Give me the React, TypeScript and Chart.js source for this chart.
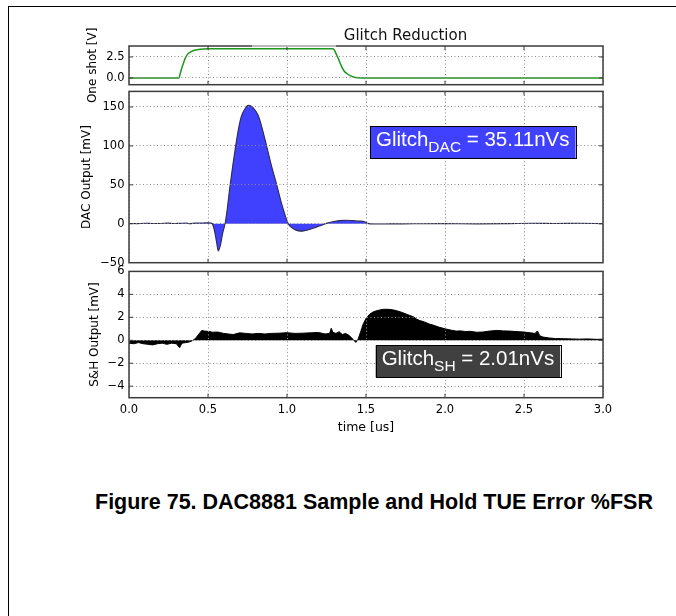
import React, { useEffect, useRef } from "react";
import { Chart, registerables } from "chart.js";
Chart.register(...registerables);

// ---------- data ----------
const X_TICKS = [0, 0.5, 1.0, 1.5, 2.0, 2.5, 3.0];
const ONESHOT_TICKS = [0, 2.5];
const DAC_TICKS = [-50, 0, 50, 100, 150];
const SH_TICKS = [-4, -2, 0, 2, 4, 6];

const TITLE = "Glitch Reduction";
const X_LABEL = "time [us]";
const ONESHOT_LABEL = "One shot [V]";
const DAC_LABEL = "DAC Output [mV]";
const SH_LABEL = "S&H Output [mV]";
const CAPTION = "Figure 75. DAC8881 Sample and Hold TUE Error %FSR";
const DAC_NOTE = ["Glitch", "DAC", " = 35.11nVs"];
const SH_NOTE = ["Glitch", "SH", " = 2.01nVs"];

const ONESHOT_T = [0, 0.2, 0.316, 0.325, 0.34, 0.355, 0.37, 0.39, 0.415, 0.45, 0.5, 0.7, 0.9, 1.1, 1.29, 1.3, 1.31, 1.325, 1.34, 1.357, 1.38, 1.4, 1.42, 1.45, 1.5, 2.0, 2.5, 3.0];
const ONESHOT_V = [0, 0, 0, 0.6, 1.5, 2.3, 2.8, 3.1, 3.3, 3.42, 3.46, 3.47, 3.46, 3.47, 3.46, 3.3, 2.9, 2.3, 1.6, 0.95, 0.5, 0.28, 0.12, 0.03, 0, 0, 0, 0];

const DAC_T = [0, 0.05, 0.1, 0.15, 0.2, 0.25, 0.28, 0.32, 0.36, 0.38, 0.42, 0.46, 0.5, 0.525, 0.54, 0.553, 0.565, 0.578, 0.593, 0.608, 0.62, 0.639, 0.657, 0.675, 0.693, 0.713, 0.735, 0.755, 0.77, 0.79, 0.818, 0.845, 0.871, 0.9, 0.935, 0.97, 1.008, 1.03, 1.06, 1.093, 1.13, 1.17, 1.21, 1.25, 1.29, 1.33, 1.37, 1.42, 1.46, 1.49, 1.51, 1.55, 1.65, 1.8, 2.0, 2.2, 2.4, 2.55, 2.7, 2.85, 3.0];
const DAC_V = [0.3, 0.2, 0.6, 0.3, 0.4, 0.8, 0.3, 0.5, 1.0, 0.2, 0.8, 1.0, 1.2, 0.5, -8, -22, -35, -28, -12, 0, 16, 48, 75, 100, 122, 139, 148, 152, 151.5, 148, 139, 121, 100, 76, 50, 23, 0, -5, -8.5, -9.5, -8, -5.5, -2.5, 0.5, 2.5, 4, 4.5, 4, 3.5, 2.5, 0.5, -0.3, -0.2, 0, 0.2, -0.1, 0.2, 0.6, 0.4, 0.6, 0.2];

const SH_T = [0, 0.03, 0.06, 0.09, 0.12, 0.15, 0.18, 0.21, 0.24, 0.27, 0.3, 0.32, 0.335, 0.36, 0.38, 0.4, 0.42, 0.44, 0.46, 0.48, 0.5, 0.53, 0.56, 0.6, 0.63, 0.66, 0.7, 0.74, 0.78, 0.82, 0.86, 0.9, 0.95, 1.0, 1.05, 1.1, 1.15, 1.2, 1.24, 1.27, 1.28, 1.29, 1.31, 1.33, 1.35, 1.37, 1.39, 1.41, 1.425, 1.437, 1.45, 1.465, 1.483, 1.5, 1.525, 1.55, 1.58, 1.61, 1.64, 1.67, 1.7, 1.73, 1.76, 1.78, 1.8, 1.82, 1.84, 1.87, 1.9, 1.93, 1.96, 2.0, 2.04, 2.07, 2.1, 2.13, 2.16, 2.2, 2.24, 2.28, 2.33, 2.37, 2.41, 2.45, 2.5, 2.54, 2.57, 2.585, 2.6, 2.62, 2.66, 2.7, 2.75, 2.8, 2.85, 2.9, 2.96, 3.0];
const SH_V = [-0.25, -0.3, -0.2, -0.3, -0.35, -0.4, -0.3, -0.25, -0.35, -0.25, -0.3, -0.65, -0.25, -0.2, -0.15, -0.05, 0.15, 0.5, 0.85, 0.8, 0.78, 0.7, 0.72, 0.6, 0.55, 0.5, 0.65, 0.6, 0.55, 0.6, 0.55, 0.6, 0.62, 0.66, 0.6, 0.62, 0.65, 0.68, 0.55, 0.6, 1.05, 0.7, 0.6, 0.75, 0.5, 0.6, 0.45, 0.2, -0.05, -0.18, 0.1, 0.7, 1.45, 1.9, 2.3, 2.5, 2.62, 2.7, 2.7, 2.65, 2.55, 2.42, 2.25, 2.15, 2.05, 1.85, 1.72, 1.6, 1.42, 1.3, 1.15, 1.0, 0.88, 0.8, 0.82, 0.76, 0.78, 0.7, 0.72, 0.8, 0.86, 0.82, 0.8, 0.76, 0.72, 0.65, 0.6, 0.82, 0.4, 0.28, 0.2, 0.15, 0.14, 0.12, 0.1, 0.12, 0.08, 0.1];

// ---------- helpers ----------
const FONT = "'DejaVu Sans', sans-serif";
const SANS = "'Liberation Sans', Arial, sans-serif";
const FRAME = "#3c3c3c";
const GRID = "#8c8c8c";
const TEXT = "#000";
const minus = (v: number) => String(v).replace("-", "\u2212");
const pts = (t: number[], v: number[]) => t.map((x, i) => ({ x, y: v[i] }));

function drawNote(ctx: CanvasRenderingContext2D, x0: number, y0: number, note: string[], fill: string) {
  const main = `20.5px ${SANS}`;
  const small = `15.5px ${SANS}`;
  ctx.font = main;
  const w1 = ctx.measureText(note[0]).width;
  const w3 = ctx.measureText(note[2]).width;
  ctx.font = small;
  const w2 = ctx.measureText(note[1]).width;
  const pad = 6;
  const w = w1 + w2 + w3 + 2 * pad;
  const h = 32;
  ctx.fillStyle = fill;
  ctx.fillRect(x0, y0, w, h);
  ctx.strokeStyle = "#000";
  ctx.lineWidth = 1;
  ctx.strokeRect(Math.round(x0) + 0.5, Math.round(y0) + 0.5, Math.round(w), h);
  ctx.fillStyle = "#fff";
  ctx.textAlign = "left";
  ctx.textBaseline = "alphabetic";
  ctx.font = main;
  ctx.fillText(note[0], x0 + pad, y0 + 20);
  ctx.font = small;
  ctx.fillText(note[1], x0 + pad + w1, y0 + 25.5);
  ctx.font = main;
  ctx.fillText(note[2], x0 + pad + w1 + w2, y0 + 20);
}

function makePlugin(extra?: (chart: any) => void) {
  return {
    id: "frame",
    afterDraw(chart: any) {
      const { ctx, chartArea, scales } = chart;
      const { left, top, right, bottom } = chartArea;
      ctx.save();
      ctx.strokeStyle = FRAME;
      ctx.lineWidth = 1;
      ctx.beginPath();
      X_TICKS.forEach((v) => {
        const px = scales.x.getPixelForValue(v);
        if (px <= left + 1 || px >= right - 1) return;
        ctx.moveTo(px, bottom);
        ctx.lineTo(px, bottom - 4);
        ctx.moveTo(px, top);
        ctx.lineTo(px, top + 4);
      });
      scales.y.ticks.forEach((t: any) => {
        const py = scales.y.getPixelForValue(t.value);
        if (py <= top + 1 || py >= bottom - 1) return;
        ctx.moveTo(left, py);
        ctx.lineTo(left + 4, py);
        ctx.moveTo(right, py);
        ctx.lineTo(right - 4, py);
      });
      ctx.stroke();
      ctx.lineWidth = 1.5;
      ctx.strokeRect(left, top, right - left, bottom - top);
      if (extra) extra(chart);
      ctx.restore();
    },
  };
}

function makeConfig(o: {
  datasets: any[];
  yMin: number;
  yMax: number;
  yTicks: number[];
  yFmt: (v: number) => string;
  yLabel: string;
  yLabelX: number;
  padTop: number;
  padBottom: number;
  xHeight: number;
  showX: boolean;
  extra?: (chart: any) => void;
}): any {
  const gridOpts = { color: GRID, lineWidth: 1, drawTicks: false, z: 1 };
  const borderOpts = { display: false, dash: [1, 2.5] };
  return {
    type: "line",
    data: { datasets: o.datasets },
    plugins: [makePlugin(o.extra)],
    options: {
      animation: false,
      responsive: false,
      events: [],
      layout: { padding: { left: 0, right: 73, top: o.padTop, bottom: o.padBottom } },
      plugins: { legend: { display: false }, tooltip: { enabled: false }, title: { display: false } },
      elements: { point: { radius: 0 } },
      scales: {
        x: {
          type: "linear",
          min: 0,
          max: 3,
          afterBuildTicks: (s: any) => {
            s.ticks = X_TICKS.map((v) => ({ value: v }));
          },
          afterFit: (s: any) => {
            s.height = o.xHeight;
          },
          grid: gridOpts,
          border: borderOpts,
          ticks: {
            display: o.showX,
            padding: 5,
            color: TEXT,
            font: { family: FONT, size: 11.5 },
            maxRotation: 0,
            callback: (v: number) => v.toFixed(1),
          },
          title: {
            display: o.showX,
            text: X_LABEL,
            color: TEXT,
            font: { family: FONT, size: 12.5 },
            padding: { top: 0, bottom: 5 },
          },
        },
        y: {
          type: "linear",
          min: o.yMin,
          max: o.yMax,
          afterBuildTicks: (s: any) => {
            s.ticks = o.yTicks.map((v) => ({ value: v }));
          },
          afterFit: (s: any) => {
            s.width = 129;
          },
          grid: gridOpts,
          border: borderOpts,
          ticks: {
            padding: 4.5,
            color: TEXT,
            font: { family: FONT, size: 11.5 },
            callback: (v: number) => o.yFmt(v),
          },
          title: {
            display: true,
            text: o.yLabel,
            color: TEXT,
            font: { family: FONT, size: 12 },
            padding: { top: o.yLabelX - 7.2, bottom: 0 },
          },
        },
      },
    },
  };
}

export default function App() {
  const refA = useRef<HTMLCanvasElement>(null);
  const refB = useRef<HTMLCanvasElement>(null);
  const refC = useRef<HTMLCanvasElement>(null);

  useEffect(() => {
    Chart.defaults.font.family = FONT;
    const cfgA = makeConfig({
      datasets: [
        {
          data: pts(ONESHOT_T, ONESHOT_V),
          borderColor: "#1f961f",
          borderWidth: 1.5,
          cubicInterpolationMode: "monotone",
          fill: false,
        },
      ],
      yMin: -0.8,
      yMax: 3.8,
      yTicks: ONESHOT_TICKS,
      yFmt: (v) => v.toFixed(1),
      yLabel: ONESHOT_LABEL,
      yLabelX: 93,
      padTop: 46,
      padBottom: 25.3,
      xHeight: 0,
      showX: false,
      extra: (chart) => {
        const ctx = chart.ctx;
        ctx.strokeStyle = "#d4d4d4";
        ctx.lineWidth = 1.6;
        ctx.beginPath();
        ctx.moveTo(252, chart.chartArea.top);
        ctx.lineTo(336, chart.chartArea.top);
        ctx.stroke();
        ctx.fillStyle = "#111";
        ctx.font = `15px ${FONT}`;
        ctx.textAlign = "center";
        ctx.textBaseline = "middle";
        ctx.fillText(TITLE, 405.5, 36);
      },
    });
    const cfgB = makeConfig({
      datasets: [
        {
          data: pts(DAC_T, DAC_V),
          borderColor: "#2c2c48",
          borderWidth: 1.1,
          backgroundColor: "#4040ff",
          cubicInterpolationMode: "monotone",
          fill: "origin",
        },
      ],
      yMin: -50,
      yMax: 170,
      yTicks: DAC_TICKS,
      yFmt: minus,
      yLabel: DAC_LABEL,
      yLabelX: 87,
      padTop: 10,
      padBottom: 12.3,
      xHeight: 0,
      showX: false,
      extra: (chart) => {
        const x0 = chart.scales.x.getPixelForValue(1.525);
        const y0 = chart.scales.y.getPixelForValue(125);
        drawNote(chart.ctx, x0, y0, DAC_NOTE, "#4040ff");
      },
    });
    const cfgC = makeConfig({
      datasets: [
        {
          data: pts(SH_T, SH_V),
          borderColor: "#000",
          borderWidth: 1,
          backgroundColor: "#000",
          tension: 0,
          fill: "origin",
        },
      ],
      yMin: -5,
      yMax: 6,
      yTicks: SH_TICKS,
      yFmt: minus,
      yLabel: SH_LABEL,
      yLabelX: 94.5,
      padTop: 10,
      padBottom: 0,
      xHeight: 42.3,
      showX: true,
      extra: (chart) => {
        const x0 = chart.scales.x.getPixelForValue(1.561);
        const y0 = chart.scales.y.getPixelForValue(-0.43);
        drawNote(chart.ctx, x0, y0, SH_NOTE, "#404040");
      },
    });
    const charts = [
      new Chart(refA.current!, cfgA),
      new Chart(refB.current!, cfgB),
      new Chart(refC.current!, cfgC),
    ];
    return () => charts.forEach((c) => c.destroy());
  }, []);

  const abs = (top: number): React.CSSProperties => ({ position: "absolute", left: 0, top });

  return (
    <div style={{ position: "fixed", inset: 0, overflow: "hidden", background: "#fff" }}>
      <div
        style={{
          position: "absolute",
          left: 8,
          top: 6,
          width: 900,
          height: 900,
          borderTop: "1px solid #000",
          borderLeft: "1px solid #000",
        }}
      />
      <canvas ref={refA} width={676} height={110} style={abs(0)} />
      <canvas ref={refB} width={676} height={195} style={abs(80)} />
      <canvas ref={refC} width={676} height={180} style={abs(260)} />
      <div
        style={{
          position: "absolute",
          left: 95,
          top: 492,
          font: `bold 21.5px ${SANS}`,
          lineHeight: 1,
          whiteSpace: "nowrap",
          color: "#000",
        }}
      >
        {CAPTION}
      </div>
    </div>
  );
}
